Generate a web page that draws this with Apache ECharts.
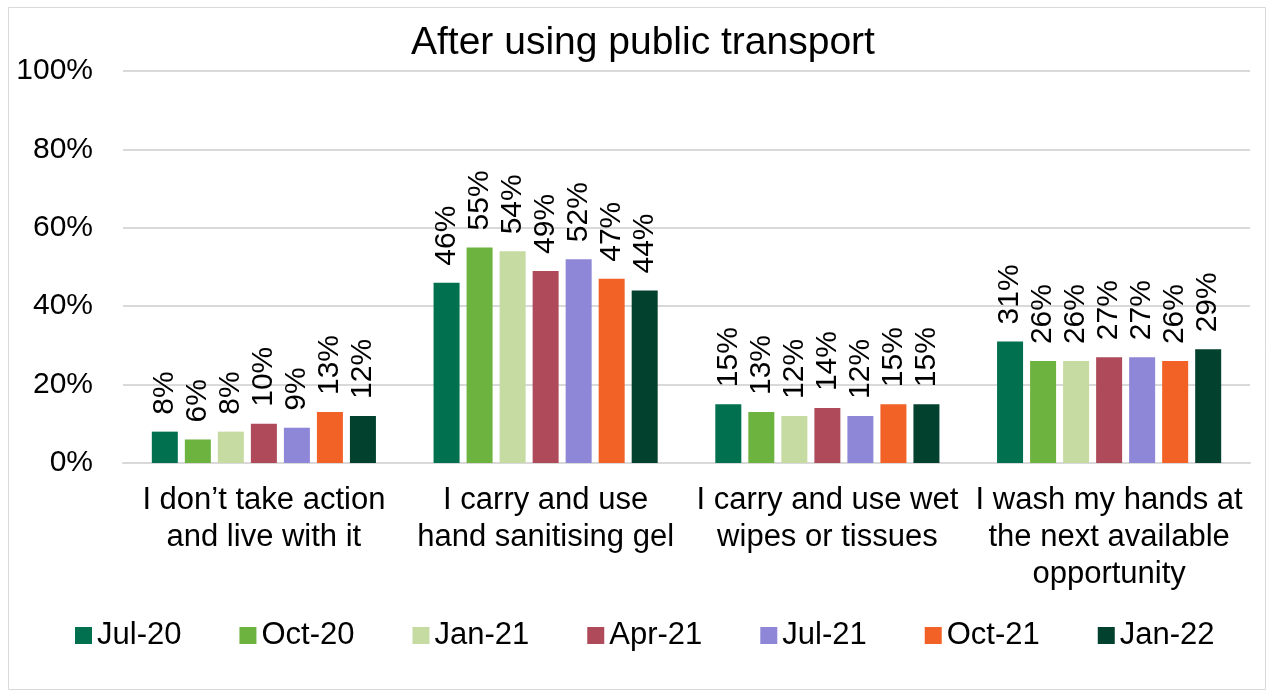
<!DOCTYPE html>
<html>
<head>
<meta charset="utf-8">
<script src="https://cdn.jsdelivr.net/npm/echarts@6/dist/echarts.min.js"></script>
<style>
  html, body { margin: 0; padding: 0; background: #fff; }
  #chart { width: 1274px; height: 697px; }
</style>
</head>
<body>
<div id="chart"></div>
<script>
const categories = [
  "I don\u2019t take action\nand live with it",
  "I carry and use\nhand sanitising gel",
  "I carry and use wet\nwipes or tissues",
  "I wash my hands at\nthe next available\nopportunity"
];
const waves = ["Jul-20", "Oct-20", "Jan-21", "Apr-21", "Jul-21", "Oct-21", "Jan-22"];
const colors = ["#00704f", "#6db33f", "#c5dba1", "#ae4a5a", "#8e86d6", "#f26126", "#03412f"];

const jul20 = [8, 46, 15, 31];
const oct20 = [6, 55, 13, 26];
const jan21 = [8, 54, 12, 26];
const apr21 = [10, 49, 14, 27];
const jul21 = [9, 52, 12, 27];
const oct21 = [13, 47, 15, 26];
const jan22 = [12, 44, 15, 29];
const seriesValues = [jul20, oct20, jan21, apr21, jul21, oct21, jan22];

const font = "Liberation Sans, Arial, sans-serif";
const myChart = echarts.init(document.getElementById("chart"));

const option = {
  animation: false,
  textStyle: { fontFamily: font },
  graphic: [{
    type: "rect",
    shape: { x: 8.5, y: 7.5, width: 1257, height: 682 },
    style: { fill: "none", stroke: "#d9d9d9", lineWidth: 1 }
  }],
  title: {
    text: "After using public transport",
    left: 406,
    top: 19,
    textStyle: { fontFamily: font, fontSize: 39, fontWeight: "normal", color: "#000" }
  },
  legend: {
    top: 615,
    left: 70,
    itemWidth: 17,
    itemHeight: 17,
    itemGap: 58,
    icon: "rect",
    textStyle: { fontFamily: font, fontSize: 31, color: "#000", padding: [0, 0, 0, 0] },
    data: waves
  },
  grid: { left: 123, right: 24, top: 71, bottom: 234 },
  xAxis: {
    type: "category",
    data: categories,
    axisTick: { show: false },
    axisLine: { lineStyle: { color: "#d9d9d9", width: 2 } },
    axisLabel: { fontFamily: font, fontSize: 31, color: "#000", lineHeight: 37, margin: 19, interval: 0 }
  },
  yAxis: {
    type: "value",
    min: 0,
    max: 100,
    interval: 20,
    axisLabel: { formatter: "{value}%", fontFamily: font, fontSize: 30, color: "#000", margin: 30 },
    splitLine: { lineStyle: { color: "#d9d9d9", width: 2 } }
  },
  series: waves.map((name, i) => ({
    name: name,
    type: "bar",
    data: seriesValues[i],
    barWidth: 26,
    barGap: "27%",
    itemStyle: { color: colors[i] },
    label: {
      show: true,
      position: "top",
      rotate: 90,
      align: "left",
      verticalAlign: "middle",
      distance: 17,
      formatter: "{c}%",
      fontFamily: font,
      fontSize: 30,
      color: "#000"
    }
  }))
};

option && myChart.setOption(option);
</script>
</body>
</html>
